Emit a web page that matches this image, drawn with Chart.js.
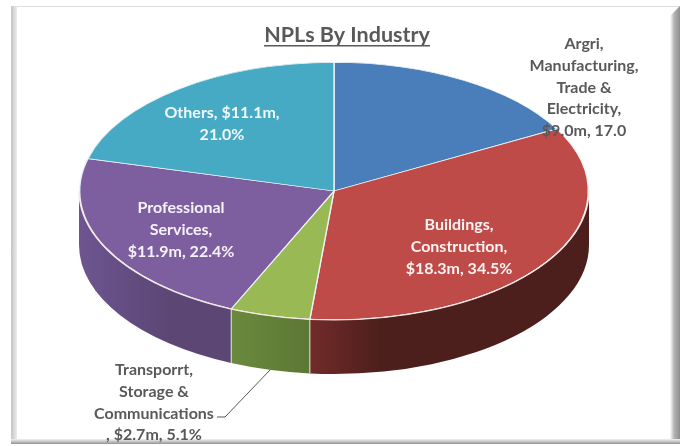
<!DOCTYPE html>
<html>
<head>
<meta charset="utf-8">
<title>NPLs By Industry</title>
<script src="https://cdn.jsdelivr.net/npm/chart.js@4"></script>
<style>
  html, body { margin: 0; padding: 0; background: #fff; overflow: hidden; }
  #wrap { position: relative; width: 686px; height: 446px; }
  #wrap canvas { position: absolute; left: 0; top: 0; filter: blur(0.35px); }
  .edge { position: absolute; }
  #top { left: 11px; top: 6px; width: 669px; height: 1px; background: #dedede; }
  #left { left: 11px; top: 6px; width: 6px; height: 438px; background: linear-gradient(90deg, #c4c4c4, #ececec); }
  #right { left: 670px; top: 6px; width: 10px; height: 438px; background: linear-gradient(90deg, #fff, #b5b5b5 40%, #8e8e8e);
    clip-path: polygon(100% 0, 100% 100%, 0 100%, 0 10px); }
  #bottom { left: 11px; top: 439px; width: 669px; height: 5px; background: linear-gradient(180deg, #f2f2f2, #bdbdbd 60%, #8f8f8f); }
</style>
</head>
<body>
<div id="wrap">
  <div class="edge" id="top"></div>
  <div class="edge" id="left"></div>
  <div class="edge" id="right"></div>
  <div class="edge" id="bottom"></div>
  <canvas id="myChart" width="686" height="446"></canvas>
</div>
<script>
(() => {
  'use strict'

  const title = 'NPLs By Industry'
  const categories = ['Argri, Manufacturing, Trade & Electricity', 'Buildings, Construction', 'Transporrt, Storage & Communications', 'Professional Services', 'Others']
  const values = [9.0, 18.3, 2.7, 11.9, 11.1]
  const topColors = ['#4a7ebb', '#be4b48', '#98b954', '#7d5fa0', '#46aac5']
  const wallLeft = ['#4a7ebb', '#722b29', '#6b8a3d', '#6e5590', '#46aac5']
  const wallRight = ['#2c4d74', '#4d1f1c', '#5c7735', '#5b4674', '#2a6a7c']
  const wallFade = [1, 0.25, 1, 0.6, 1]

  const labelLines = [
    ['Argri,', 'Manufacturing,', 'Trade &', 'Electricity,', '$9.0m, 17.0'],
    ['Buildings,', 'Construction,', '$18.3m, 34.5%'],
    ['Transporrt,', 'Storage &', 'Communications', ', $2.7m, 5.1%'],
    ['Professional', 'Services,', '$11.9m, 22.4%'],
    ['Others, $11.1m,', '21.0%']
  ]
  const labelAnchors = [[584, 44], [459, 225], [154, 370], [181, 208], [222, 113]]
  const labelColors = ['#595959', '#fdf3f2', '#595959', '#f6f2fa', '#f0f9fc']

  const cx = 334, cy = 191, radiusY = 129, radiusX = 255, depth = 54
  const stretch = radiusX / radiusY

  // pie is square in the library, so stretch it sideways to get the ellipse
  const tilt = {
    id: 'tilt',
    beforeDatasetsDraw(chart) {
      const c = chart.ctx
      const arcs = chart.getDatasetMeta(0).data
      // side wall first, one band for each slice that faces the viewer
      arcs.forEach((arc, i) => {
        const a0 = Math.max(arc.startAngle, 0)
        const a1 = Math.min(arc.endAngle, Math.PI)
        if (a1 <= a0) return
        const g = c.createLinearGradient(cx + radiusX * Math.cos(a1), 0, cx + radiusX * Math.cos(a0), 0)
        g.addColorStop(0, wallLeft[i])
        g.addColorStop(wallFade[i], wallRight[i])
        c.beginPath()
        c.ellipse(cx, cy + depth, radiusX, radiusY, 0, a0, a1)
        c.ellipse(cx, cy, radiusX, radiusY, 0, a1, a0, true)
        c.closePath()
        c.fillStyle = g
        c.fill()
      })
      // light seams on the wall either side of the small slice
      c.save()
      c.strokeStyle = '#dfe8cf'
      c.lineWidth = 1
      ;[arcs[2].startAngle, arcs[2].endAngle].forEach(a => {
        const x = cx + radiusX * Math.cos(a)
        const y = cy + radiusY * Math.sin(a)
        c.beginPath()
        c.moveTo(x, y)
        c.lineTo(x, y + depth)
        c.stroke()
      })
      c.restore()
      c.save()
      c.translate(cx, 0)
      c.scale(stretch, 1)
      c.translate(-cx, 0)
    },
    afterDatasetsDraw(chart) {
      const c = chart.ctx
      c.restore()
      // bright rim along the front of the top face
      c.save()
      c.strokeStyle = '#f3e9e4'
      c.lineWidth = 1.2
      c.beginPath()
      c.ellipse(cx, cy, radiusX, radiusY, 0, 0, Math.PI)
      c.stroke()
      c.restore()
    }
  }

  const labels = {
    id: 'labels',
    afterDraw(chart) {
      const c = chart.ctx
      c.save()
      c.textAlign = 'center'
      c.textBaseline = 'middle'
      c.fillStyle = '#595959'
      c.font = 'bold 21.5px Lato'
      c.fillText(title, 347, 35)
      c.fillRect(264, 45, 166, 1.5)
      // leader line for the small slice
      c.strokeStyle = '#595959'
      c.lineWidth = 1
      c.beginPath()
      c.moveTo(270, 370)
      c.lineTo(225, 417)
      c.lineTo(217, 417)
      c.stroke()
      c.font = 'bold 16px Lato'
      labelLines.forEach((lines, i) => {
        c.fillStyle = labelColors[i]
        lines.forEach((line, j) => {
          c.fillText(line, labelAnchors[i][0], labelAnchors[i][1] + j * 21.7)
        })
      })
      c.restore()
    }
  }

  new Chart(document.getElementById('myChart'), {
    type: 'pie',
    data: {
      labels: categories,
      datasets: [{
        data: values,
        backgroundColor: topColors,
        borderColor: '#eef2f4',
        borderWidth: 0.7
      }]
    },
    options: {
      responsive: false,
      animation: false,
      layout: {
        padding: { left: cx - radiusY, right: 686 - cx - radiusY, top: cy - radiusY, bottom: 446 - cy - radiusY }
      },
      plugins: {
        legend: { display: false },
        tooltip: { enabled: false }
      }
    },
    plugins: [tilt, labels]
  })
})()
</script>
</body>
</html>
